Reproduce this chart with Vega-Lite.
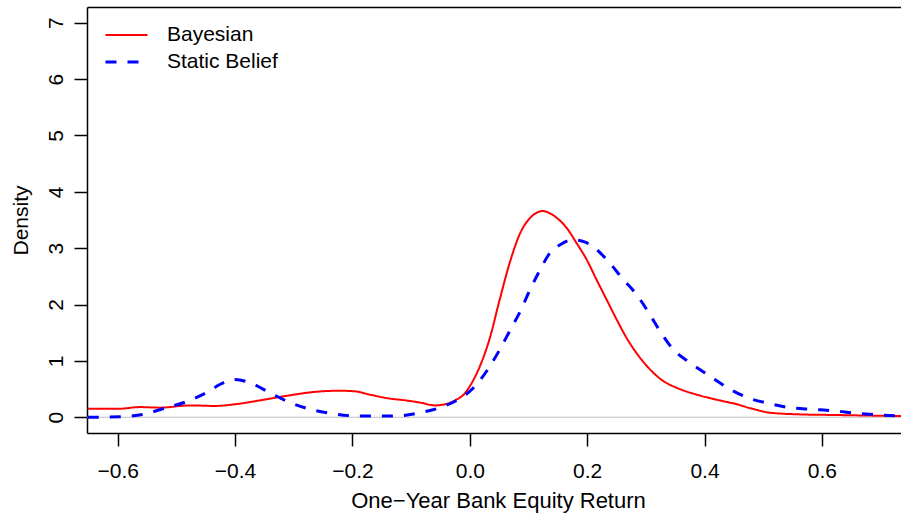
{
  "$schema": "https://vega.github.io/schema/vega-lite/v6.json",
  "width": 814,
  "height": 426,
  "autosize": {"type": "none"},
  "padding": {"left": 87, "top": 7, "right": 0, "bottom": 82},
  "background": "white",
  "config": {
    "view": {"stroke": null},
    "font": "Liberation Sans",
    "axis": {"grid": false, "domainColor": "black", "tickColor": "black", "domainWidth": 1.5, "tickWidth": 1.5, "labelColor": "black", "titleColor": "black", "labelFont": "Liberation Sans", "titleFont": "Liberation Sans", "titleFontWeight": "normal", "labelFontSize": 21, "titleFontSize": 21, "tickSize": 13},
    "legend": {"labelFont": "Liberation Sans", "labelFontSize": 21, "labelColor": "black"}
  },
  "datasets": {
    "zero": [{"y": 0}],
    "curves": [
      {"x": -0.651, "y": 0.15, "series": "Bayesian"},
      {"x": -0.599, "y": 0.15, "series": "Bayesian"},
      {"x": -0.562, "y": 0.18, "series": "Bayesian"},
      {"x": -0.528, "y": 0.17, "series": "Bayesian"},
      {"x": -0.477, "y": 0.21, "series": "Bayesian"},
      {"x": -0.434, "y": 0.20, "series": "Bayesian"},
      {"x": -0.400, "y": 0.23, "series": "Bayesian"},
      {"x": -0.357, "y": 0.30, "series": "Bayesian"},
      {"x": -0.306, "y": 0.39, "series": "Bayesian"},
      {"x": -0.264, "y": 0.45, "series": "Bayesian"},
      {"x": -0.221, "y": 0.47, "series": "Bayesian"},
      {"x": -0.196, "y": 0.46, "series": "Bayesian"},
      {"x": -0.170, "y": 0.40, "series": "Bayesian"},
      {"x": -0.136, "y": 0.33, "series": "Bayesian"},
      {"x": -0.110, "y": 0.30, "series": "Bayesian"},
      {"x": -0.085, "y": 0.26, "series": "Bayesian"},
      {"x": -0.059, "y": 0.21, "series": "Bayesian"},
      {"x": -0.042, "y": 0.23, "series": "Bayesian"},
      {"x": -0.025, "y": 0.30, "series": "Bayesian"},
      {"x": -0.008, "y": 0.43, "series": "Bayesian"},
      {"x": 0.000, "y": 0.55, "series": "Bayesian"},
      {"x": 0.017, "y": 0.90, "series": "Bayesian"},
      {"x": 0.034, "y": 1.40, "series": "Bayesian"},
      {"x": 0.051, "y": 2.09, "series": "Bayesian"},
      {"x": 0.068, "y": 2.74, "series": "Bayesian"},
      {"x": 0.086, "y": 3.27, "series": "Bayesian"},
      {"x": 0.103, "y": 3.54, "series": "Bayesian"},
      {"x": 0.114, "y": 3.63, "series": "Bayesian"},
      {"x": 0.125, "y": 3.66, "series": "Bayesian"},
      {"x": 0.136, "y": 3.62, "series": "Bayesian"},
      {"x": 0.148, "y": 3.54, "series": "Bayesian"},
      {"x": 0.165, "y": 3.36, "series": "Bayesian"},
      {"x": 0.182, "y": 3.09, "series": "Bayesian"},
      {"x": 0.199, "y": 2.80, "series": "Bayesian"},
      {"x": 0.216, "y": 2.44, "series": "Bayesian"},
      {"x": 0.233, "y": 2.09, "series": "Bayesian"},
      {"x": 0.250, "y": 1.74, "series": "Bayesian"},
      {"x": 0.267, "y": 1.41, "series": "Bayesian"},
      {"x": 0.284, "y": 1.14, "series": "Bayesian"},
      {"x": 0.307, "y": 0.85, "series": "Bayesian"},
      {"x": 0.330, "y": 0.64, "series": "Bayesian"},
      {"x": 0.353, "y": 0.52, "series": "Bayesian"},
      {"x": 0.387, "y": 0.40, "series": "Bayesian"},
      {"x": 0.421, "y": 0.31, "series": "Bayesian"},
      {"x": 0.455, "y": 0.23, "series": "Bayesian"},
      {"x": 0.478, "y": 0.16, "series": "Bayesian"},
      {"x": 0.512, "y": 0.08, "series": "Bayesian"},
      {"x": 0.563, "y": 0.05, "series": "Bayesian"},
      {"x": 0.619, "y": 0.04, "series": "Bayesian"},
      {"x": 0.676, "y": 0.03, "series": "Bayesian"},
      {"x": 0.735, "y": 0.02, "series": "Bayesian"},
      {"x": -0.651, "y": 0.00, "series": "Static Belief"},
      {"x": -0.639, "y": 0.00, "series": "Static Belief"},
      {"x": -0.596, "y": 0.01, "series": "Static Belief"},
      {"x": -0.557, "y": 0.05, "series": "Static Belief"},
      {"x": -0.523, "y": 0.15, "series": "Static Belief"},
      {"x": -0.482, "y": 0.28, "series": "Static Belief"},
      {"x": -0.448, "y": 0.44, "series": "Static Belief"},
      {"x": -0.426, "y": 0.58, "series": "Static Belief"},
      {"x": -0.414, "y": 0.64, "series": "Static Belief"},
      {"x": -0.400, "y": 0.67, "series": "Static Belief"},
      {"x": -0.374, "y": 0.61, "series": "Static Belief"},
      {"x": -0.340, "y": 0.43, "series": "Static Belief"},
      {"x": -0.306, "y": 0.26, "series": "Static Belief"},
      {"x": -0.272, "y": 0.14, "series": "Static Belief"},
      {"x": -0.238, "y": 0.07, "series": "Static Belief"},
      {"x": -0.187, "y": 0.02, "series": "Static Belief"},
      {"x": -0.131, "y": 0.02, "series": "Static Belief"},
      {"x": -0.085, "y": 0.08, "series": "Static Belief"},
      {"x": -0.051, "y": 0.17, "series": "Static Belief"},
      {"x": -0.022, "y": 0.30, "series": "Static Belief"},
      {"x": 0.006, "y": 0.52, "series": "Static Belief"},
      {"x": 0.034, "y": 0.90, "series": "Static Belief"},
      {"x": 0.051, "y": 1.20, "series": "Static Belief"},
      {"x": 0.068, "y": 1.53, "series": "Static Belief"},
      {"x": 0.086, "y": 1.88, "series": "Static Belief"},
      {"x": 0.103, "y": 2.27, "series": "Static Belief"},
      {"x": 0.120, "y": 2.62, "series": "Static Belief"},
      {"x": 0.137, "y": 2.92, "series": "Static Belief"},
      {"x": 0.154, "y": 3.06, "series": "Static Belief"},
      {"x": 0.176, "y": 3.15, "series": "Static Belief"},
      {"x": 0.193, "y": 3.12, "series": "Static Belief"},
      {"x": 0.210, "y": 3.03, "series": "Static Belief"},
      {"x": 0.233, "y": 2.80, "series": "Static Belief"},
      {"x": 0.262, "y": 2.44, "series": "Static Belief"},
      {"x": 0.284, "y": 2.18, "series": "Static Belief"},
      {"x": 0.307, "y": 1.82, "series": "Static Belief"},
      {"x": 0.324, "y": 1.53, "series": "Static Belief"},
      {"x": 0.347, "y": 1.20, "series": "Static Belief"},
      {"x": 0.375, "y": 0.97, "series": "Static Belief"},
      {"x": 0.409, "y": 0.73, "series": "Static Belief"},
      {"x": 0.443, "y": 0.50, "series": "Static Belief"},
      {"x": 0.478, "y": 0.33, "series": "Static Belief"},
      {"x": 0.512, "y": 0.24, "series": "Static Belief"},
      {"x": 0.545, "y": 0.17, "series": "Static Belief"},
      {"x": 0.585, "y": 0.14, "series": "Static Belief"},
      {"x": 0.625, "y": 0.11, "series": "Static Belief"},
      {"x": 0.659, "y": 0.07, "series": "Static Belief"},
      {"x": 0.699, "y": 0.04, "series": "Static Belief"},
      {"x": 0.735, "y": 0.02, "series": "Static Belief"}
    ]
  },
  "resolve": {"axis": {"x": "independent"}},
  "layer": [
    {
      "data": {"name": "zero"},
      "mark": {"type": "rule", "color": "#BEBEBE", "strokeWidth": 1},
      "encoding": {
        "y": {"field": "y", "type": "quantitative", "scale": {"domain": [-0.28, 7.28], "nice": false, "zero": false},
              "axis": {"values": [0, 1, 2, 3, 4, 5, 6, 7], "title": "Density", "labelAngle": -90, "labelAlign": "center", "labelBaseline": "alphabetic", "labelPadding": 12, "titlePadding": 14, "labelFlush": false, "labelOverlap": false}}
      }
    },
    {
      "data": {"name": "curves"},
      "mark": {"type": "line", "interpolate": "monotone", "clip": true},
      "encoding": {
        "x": {"field": "x", "type": "quantitative", "scale": {"domain": [-0.6523, 0.7348], "nice": false, "zero": false},
              "axis": {"orient": "bottom", "values": [-0.6, -0.4, -0.2, 0, 0.2, 0.4, 0.6], "format": ".1f", "title": "One−Year Bank Equity Return", "titleFontSize": 22, "titleX": 411, "labelPadding": 14, "titlePadding": 9, "labelFlush": false, "labelOverlap": false}},
        "y": {"field": "y", "type": "quantitative", "scale": {"domain": [-0.28, 7.28], "nice": false, "zero": false},
              "axis": {"values": [0, 1, 2, 3, 4, 5, 6, 7], "title": "Density", "labelAngle": -90, "labelAlign": "center", "labelBaseline": "alphabetic", "labelPadding": 12, "titlePadding": 14, "labelFlush": false, "labelOverlap": false}},
        "color": {"field": "series", "type": "nominal", "scale": {"domain": ["Bayesian", "Static Belief"], "range": ["#FF0000", "#0000FF"]},
                  "legend": {"title": null, "orient": "none", "legendX": 17, "legendY": 14.5, "symbolType": "stroke", "symbolSize": 1764, "labelOffset": 18, "padding": 0, "rowPadding": 0, "clipHeight": 27}},
        "strokeDash": {"field": "series", "type": "nominal", "scale": {"domain": ["Bayesian", "Static Belief"], "range": [[1, 0], [11, 11]]},
                  "legend": {"title": null, "orient": "none", "legendX": 17, "legendY": 14.5, "symbolType": "stroke", "symbolSize": 1764, "labelOffset": 18, "padding": 0, "rowPadding": 0, "clipHeight": 27}},
        "strokeWidth": {"field": "series", "type": "nominal", "scale": {"domain": ["Bayesian", "Static Belief"], "range": [2, 3]},
                  "legend": {"title": null, "orient": "none", "legendX": 17, "legendY": 14.5, "symbolType": "stroke", "symbolSize": 1764, "labelOffset": 18, "padding": 0, "rowPadding": 0, "clipHeight": 27}}
      }
    },
    {
      "data": {"name": "curves"},
      "mark": {"type": "point", "opacity": 0, "clip": true},
      "encoding": {
        "x": {"field": "x", "type": "quantitative", "scale": {"domain": [-0.6523, 0.7348], "nice": false, "zero": false},
              "axis": {"orient": "top", "labels": false, "ticks": false, "title": null, "domain": true}}
      }
    }
  ]
}
